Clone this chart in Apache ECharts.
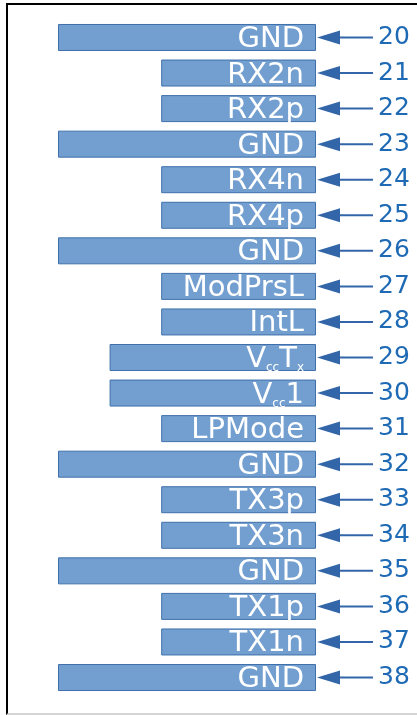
<!DOCTYPE html>
<html>
<head>
<meta charset="utf-8">
<script src="https://cdn.jsdelivr.net/npm/echarts@6/dist/echarts.min.js"></script>
<style>
  html, body { margin: 0; padding: 0; background: #fff; }
  .frame {
    position: absolute; left: 6px; top: 3px; width: 420px; height: 708px;
    border-left: 2px solid #000; border-top: 2px solid #000; border-bottom: 2px solid #d4d4d4;
  }
  #chart { position: absolute; left: 0; top: 0; width: 417px; height: 715px; }
</style>
</head>
<body>
<div class="frame"></div>
<div id="chart"></div>
<script>
// pin numbers, signal names and bar lengths (in relative units)
var pins = ['20','21','22','23','24','25','26','27','28','29','30','31','32','33','34','35','36','37','38'];
var names = ['GND','RX2n','RX2p','GND','RX4n','RX4p','GND','ModPrsL','IntL','VccTx','Vcc1','LPMode','GND','TX3p','TX3n','GND','TX1p','TX1n','GND'];
var lengths = [5,3,3,5,3,3,5,3,3,4,4,3,5,3,3,5,3,3,5];

var arrowColor = '#3366a8';

// names with subscripts
var richNames = {
  'VccTx': '{m|V}{s|cc}{m|T}{s|x}',
  'Vcc1': '{m|V}{s|cc}{m|1}'
};

var chart = echarts.init(document.getElementById('chart'));

var option = {
  animation: false,
  grid: { left: 58, right: 101, top: 19.7, bottom: 19.7 },
  xAxis: {
    type: 'value', min: 0, max: 5, inverse: true,
    show: false
  },
  yAxis: {
    type: 'category', data: pins, inverse: true, position: 'right',
    axisLine: { show: false },
    axisTick: { show: false },
    splitLine: { show: false },
    axisLabel: {
      margin: 62, color: '#1f6ab4', fontSize: 25,
      fontFamily: 'DejaVu Sans', align: 'left'
    }
  },
  series: [
    {
      type: 'bar',
      data: lengths,
      barWidth: 27,
      itemStyle: { color: '#729fcf', borderColor: '#3f70ab', borderWidth: 1 },
      label: {
        show: true,
        position: 'insideRight',
        distance: 12,
        offset: [0, 2],
        color: '#fff',
        fontSize: 29,
        fontFamily: 'DejaVu Sans',
        formatter: function (p) {
          var n = names[p.dataIndex];
          return richNames[n] || n;
        },
        rich: {
          m: { color: '#fff', fontSize: 29, fontFamily: 'DejaVu Sans', lineHeight: 29, verticalAlign: 'bottom' },
          s: { color: '#fff', fontSize: 12, fontFamily: 'DejaVu Sans', lineHeight: 12, verticalAlign: 'bottom' }
        }
      }
    },
    {
      type: 'custom',
      data: pins.map(function (p, i) { return [0, i]; }),
      encode: { x: 0, y: 1 },
      renderItem: function (params, api) {
        var pt = api.coord([api.value(0), api.value(1)]);
        var x = pt[0] + 1, y = pt[1];
        return {
          type: 'group',
          children: [
            {
              type: 'polygon',
              shape: { points: [[x, y], [x + 23, y - 7], [x + 23, y + 7]] },
              style: { fill: arrowColor }
            },
            {
              type: 'line',
              shape: { x1: x + 22, y1: y, x2: x + 56, y2: y },
              style: { stroke: arrowColor, lineWidth: 2 }
            }
          ]
        };
      }
    }
  ]
};

chart.setOption(option);
</script>
</body>
</html>
